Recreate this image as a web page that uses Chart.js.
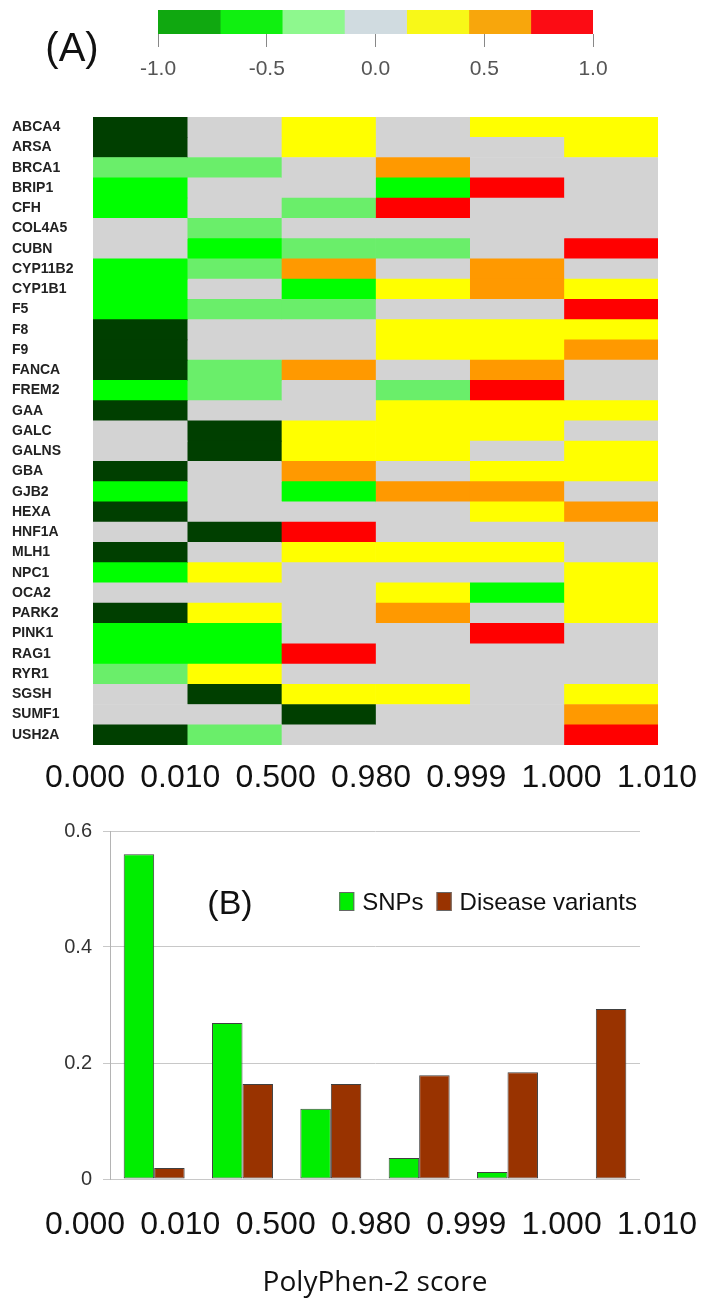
<!DOCTYPE html>
<html><head><meta charset="utf-8">
<script src="https://cdn.jsdelivr.net/npm/chart.js@4.4.1/dist/chart.umd.min.js"></script>
<style>
html,body{margin:0;padding:0;background:#fff;}
#wrap{position:relative;width:706px;height:1308px;overflow:hidden;background:#fff;}
canvas{position:absolute;left:0;}
</style></head><body>
<div id="wrap">
<canvas id="cbar" width="706" height="100" style="top:0px"></canvas>
<canvas id="heat" width="706" height="700" style="top:100px"></canvas>
<canvas id="bars" width="706" height="508" style="top:800px"></canvas>
</div>
<script>
// ---------- data ----------
const genes = ['ABCA4','ARSA','BRCA1','BRIP1','CFH','COL4A5','CUBN','CYP11B2','CYP1B1','F5','F8','F9','FANCA','FREM2','GAA','GALC','GALNS','GBA','GJB2','HEXA','HNF1A','MLH1','NPC1','OCA2','PARK2','PINK1','RAG1','RYR1','SGSH','SUMF1','USH2A'];
const scoreLabels = ['0.000','0.010','0.500','0.980','0.999','1.000','1.010'];
const binEdges = [0,1,2,3,4,5,6];
// colour level per gene (-3 = -1.0 ... 0 = 0.0 ... 3 = 1.0), one array per PolyPhen-2 score bin
const bin1 = [-3,-3,-1,-2,-2,0,0,-2,-2,-2,-3,-3,-3,-2,-3,0,0,-3,-2,-3,0,-3,-2,0,-3,-2,-2,-1,0,0,-3];
const bin2 = [0,0,-1,0,0,-1,-2,-1,0,-1,0,0,-1,-1,0,-3,-3,0,0,0,-3,0,1,0,1,-2,-2,1,-3,0,-1];
const bin3 = [1,1,0,0,-1,0,-1,2,-2,-1,0,0,2,0,0,1,1,2,-2,0,3,1,0,0,0,0,3,0,1,-3,0];
const bin4 = [0,0,2,-2,3,0,-1,0,1,0,1,1,0,-1,1,1,1,0,2,0,0,1,0,1,2,0,0,0,1,0,0];
const bin5 = [1,0,0,3,0,0,0,2,2,0,1,1,2,3,1,1,0,1,2,1,0,1,0,-2,0,3,0,0,0,0,0];
const bin6 = [1,1,0,0,0,0,3,0,1,3,1,2,0,0,1,0,1,1,0,2,0,0,1,1,1,0,0,0,1,2,3];
const levelColors = ['#003f00','#00ff00','#6aee6a','#d3d3d3','#ffff00','#ff9900','#ff0000'];
const colorbarEdges = [-1,-0.714,-0.429,-0.143,0.143,0.429,0.714,1];
const colorbarColors = ['#10a810','#10f010','#8ef88e','#d0dbe0','#f8f818','#f8a60c','#fc0c14'];
const snpFreq = [0.560,0.269,0.121,0.036,0.012,0];
const diseaseFreq = [0.019,0.164,0.164,0.179,0.184,0.293];
const barTicks = [0,0.2,0.4,0.6];

Chart.defaults.font.family = "'Liberation Sans', Arial, sans-serif";
Chart.defaults.animation = false;

// ---------- colour bar ----------
new Chart(document.getElementById('cbar'), {
  type: 'bar',
  data: {
    labels: [''],
    datasets: colorbarColors.map((c, i) => ({
      data: [[colorbarEdges[i], colorbarEdges[i + 1]]],
      backgroundColor: c, borderWidth: 0,
      barPercentage: 1, categoryPercentage: 1, grouped: false
    }))
  },
  options: {
    indexAxis: 'y', responsive: false, devicePixelRatio: 1, animation: false,
    layout: { padding: { top: 10, left: 158, right: 113, bottom: 0 } },
    plugins: { legend: { display: false }, tooltip: { enabled: false } },
    scales: {
      y: { display: false },
      x: {
        type: 'linear', min: -1, max: 1,
        ticks: { stepSize: 0.5, callback: v => v.toFixed(1), font: { size: 21 }, color: '#555', padding: 10, autoSkip: false, maxRotation: 0 },
        grid: { drawOnChartArea: false, drawTicks: true, tickLength: 13, color: '#888', tickColor: '#888' },
        border: { display: false },
        afterFit: s => { s.height = 66; }
      }
    }
  },
  plugins: [{
    id: 'tagA',
    afterDraw(chart) {
      const ctx = chart.ctx; ctx.save();
      ctx.font = "40px 'Liberation Sans'"; ctx.fillStyle = '#111';
      ctx.textAlign = 'center'; ctx.textBaseline = 'middle';
      ctx.fillText('(A)', chart.chartArea.left - 86, 50);
      ctx.restore();
    }
  }]
});

// ---------- heat map ----------
const bins = [bin1, bin2, bin3, bin4, bin5, bin6];
new Chart(document.getElementById('heat'), {
  type: 'bar',
  data: {
    labels: genes,
    datasets: bins.map((b, c) => ({
      label: scoreLabels[c] + '-' + scoreLabels[c + 1],
      data: genes.map(() => [binEdges[c], binEdges[c + 1]]),
      backgroundColor: b.map(v => levelColors[v + 3]),
      borderWidth: 0, barPercentage: 1, categoryPercentage: 1, grouped: false
    }))
  },
  options: {
    indexAxis: 'y', responsive: false, devicePixelRatio: 1, animation: false,
    layout: { padding: { left: 12, right: 48, top: 17, bottom: 0 } },
    plugins: { legend: { display: false }, tooltip: { enabled: false } },
    scales: {
      x: { type: 'linear', min: 0, max: 6, display: false },
      xt: {
        type: 'linear', position: 'bottom', min: 0.084, max: 6.011, offset: false,
        afterBuildTicks: s => { s.ticks = binEdges.map(v => ({ value: v })); },
        ticks: { callback: (v, i) => scoreLabels[i], font: { size: 32 }, color: '#111', padding: 6, autoSkip: false, maxRotation: 0 },
        grid: { display: false }, border: { display: false },
        afterFit: s => { s.height = 55; s.paddingLeft = 0; s.paddingRight = 0; }
      },
      y: {
        type: 'category',
        ticks: { font: { size: 14, weight: 'bold' }, color: '#222', crossAlign: 'far', padding: 0, autoSkip: false },
        grid: { display: false }, border: { display: false },
        afterFit: s => { s.width = 81; }
      }
    }
  }
});

// ---------- bar chart ----------
new Chart(document.getElementById('bars'), {
  type: 'bar',
  data: {
    labels: scoreLabels.slice(0, 6).map((s, i) => s + '-' + scoreLabels[i + 1]),
    datasets: [
      { label: 'SNPs', data: snpFreq, backgroundColor: '#00ee00', borderColor: '#404040', borderWidth: 1, borderSkipped: false },
      { label: 'Disease variants', data: diseaseFreq, backgroundColor: '#993300', borderColor: '#404040', borderWidth: 1, borderSkipped: false }
    ]
  },
  options: {
    responsive: false, devicePixelRatio: 1, animation: false,
    datasets: { bar: { categoryPercentage: 0.69, barPercentage: 1 } },
    layout: { padding: { left: 0, right: 66, top: 31, bottom: 0 } },
    plugins: { legend: { display: false }, tooltip: { enabled: false } },
    scales: {
      x: { display: false },
      xt: {
        type: 'linear', position: 'bottom', min: 0.262, max: 5.822, offset: false,
        grid: { display: false, offset: false }, border: { display: false },
        afterBuildTicks: s => { s.ticks = binEdges.map(v => ({ value: v })); },
        ticks: { callback: (v, i) => scoreLabels[i], font: { size: 32 }, color: '#111', padding: 19, autoSkip: false, maxRotation: 0 },
        title: { display: true, text: 'PolyPhen-2 score', font: { family: "'Open Sans', sans-serif", size: 28 }, color: '#111', padding: { top: 0, bottom: 8 } },
        afterFit: s => { s.height = 129; s.paddingLeft = 0; s.paddingRight = 0; }
      },
      y: {
        min: 0, max: 0.6,
        afterBuildTicks: s => { s.ticks = barTicks.map(v => ({ value: v })); },
        ticks: { callback: v => (v === 0 ? '0' : v.toFixed(1)), font: { size: 20 }, color: '#333', padding: 11 },
        grid: { color: '#c8c8c8', tickLength: 7, tickColor: '#c8c8c8' },
        border: { color: '#b4b4b4' },
        afterFit: s => { s.width = 110; }
      }
    }
  },
  plugins: [{
    id: 'tagB',
    afterDraw(chart) {
      const ctx = chart.ctx, a = chart.chartArea;
      ctx.save();
      ctx.font = "34px 'Liberation Sans'"; ctx.fillStyle = '#111';
      ctx.textAlign = 'center'; ctx.textBaseline = 'middle';
      ctx.fillText('(B)', a.left + 120, a.top + 74);
      // legend
      ctx.font = "24px 'Liberation Sans'"; ctx.textAlign = 'left';
      let x = a.right - 3;
      const ds = chart.data.datasets;
      for (let i = ds.length - 1; i >= 0; i--) {
        const w = ctx.measureText(ds[i].label).width;
        x -= w;
        ctx.fillStyle = '#111';
        ctx.fillText(ds[i].label, x, a.top + 72);
        x -= 8 + 15;
        ctx.fillStyle = ds[i].backgroundColor;
        ctx.fillRect(x, a.top + 61, 15, 19);
        ctx.strokeStyle = '#666'; ctx.lineWidth = 1;
        ctx.strokeRect(x + 0.5, a.top + 61.5, 14, 18);
        x -= 13;
      }
      ctx.restore();
    }
  }]
});
</script>
</body></html>
